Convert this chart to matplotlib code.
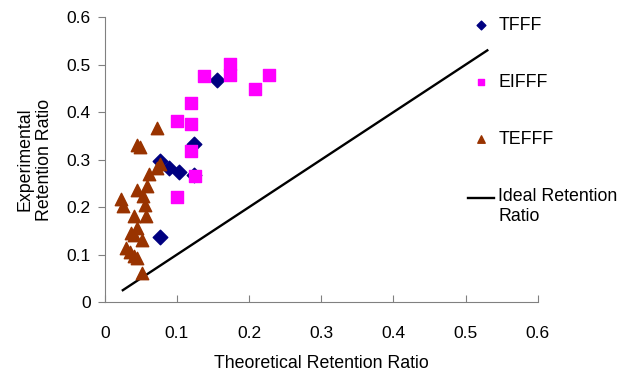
import matplotlib.pyplot as plt
from matplotlib.legend_handler import HandlerLine2D

plt.rcParams["font.family"] = ["Liberation Sans", "DejaVu Sans"]

# TFFF (diamonds)
tfff_x = [0.155, 0.124, 0.077, 0.089, 0.103, 0.123, 0.076]
tfff_y = [0.468, 0.333, 0.297, 0.283, 0.273, 0.267, 0.136]

# EIFFF (squares)
eifff_x = [0.173, 0.173, 0.137, 0.228, 0.208, 0.12, 0.1, 0.12, 0.12, 0.125, 0.1]
eifff_y = [0.502, 0.478, 0.475, 0.478, 0.448, 0.419, 0.382, 0.375, 0.319, 0.265, 0.221]

# TEFFF (triangles)
tefff_x = [0.073, 0.044, 0.049, 0.077, 0.072, 0.061, 0.058, 0.045, 0.053, 0.023, 0.025,
           0.056, 0.057, 0.04, 0.045, 0.037, 0.04, 0.051, 0.029, 0.035, 0.04, 0.045, 0.052]
tefff_y = [0.367, 0.33, 0.326, 0.29, 0.283, 0.269, 0.245, 0.235, 0.224, 0.216, 0.202,
           0.204, 0.181, 0.181, 0.157, 0.146, 0.141, 0.13, 0.113, 0.106, 0.097, 0.092, 0.062]

# ideal retention line (y = x)
ideal_x = [0.025, 0.53]
ideal_y = [0.025, 0.53]


class TopLineHandler(HandlerLine2D):
    # put the legend line next to the first line of a two-line label
    def create_artists(self, legend, orig_handle, xdescent, ydescent, width, height, fontsize, trans):
        return super().create_artists(legend, orig_handle, xdescent, ydescent - 13,
                                      width, height, fontsize, trans)


fig = plt.figure(figsize=(6.35, 3.72), dpi=100)
ax = fig.add_axes([0.165, 0.188, 0.682, 0.766])

ax.scatter(tfff_x, tfff_y, marker="D", s=55, color="#000080", zorder=3, label="TFFF")
ax.scatter(eifff_x, eifff_y, marker="s", s=70, color="#FF00FF", zorder=3, label="EIFFF")
ax.scatter(tefff_x, tefff_y, marker="^", s=80, color="#993300", zorder=4, label="TEFFF")
ideal, = ax.plot(ideal_x, ideal_y, color="black", linewidth=1.7, zorder=2,
                 label="Ideal Retention\nRatio")

ax.set_xlim(0, 0.6)
ax.set_ylim(0, 0.6)
ax.set_xticks([0, 0.1, 0.2, 0.3, 0.4, 0.5, 0.6])
ax.set_yticks([0, 0.1, 0.2, 0.3, 0.4, 0.5, 0.6])
ax.set_xticklabels(["0", "0.1", "0.2", "0.3", "0.4", "0.5", "0.6"])
ax.set_yticklabels(["0", "0.1", "0.2", "0.3", "0.4", "0.5", "0.6"])
ax.tick_params(axis="x", direction="in", length=5, color="#808080", labelsize=12.5, pad=17)
ax.tick_params(axis="y", direction="out", length=5, color="#808080", labelsize=12.5, pad=5)
for side in ("top", "right"):
    ax.spines[side].set_visible(False)
for side in ("left", "bottom"):
    ax.spines[side].set_color("#808080")

ax.set_xlabel("Theoretical Retention Ratio", fontsize=12.8, labelpad=10)
ax.set_ylabel("Experimental\nRetention Ratio", fontsize=12.8, labelpad=10)

ax.legend(loc="upper left", bbox_to_anchor=(0.712, 0.997), bbox_transform=fig.transFigure,
          frameon=False, fontsize=12.8, labelspacing=2.25, handlelength=1.45,
          handletextpad=0.25, markerscale=0.6, handler_map={ideal: TopLineHandler()})

fig.savefig("out.png", dpi=100)
